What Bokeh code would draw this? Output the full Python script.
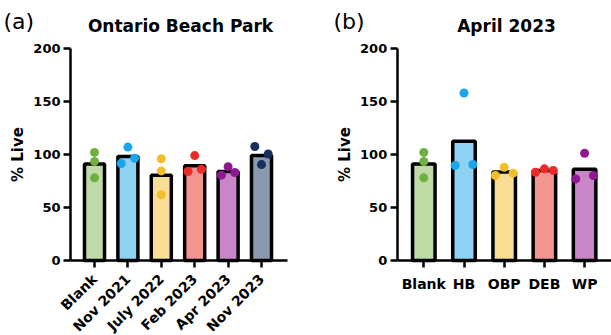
import math
from bokeh.plotting import figure
from bokeh.layouts import row
from bokeh.models import Label, FixedTicker, Range1d
from bokeh.embed import file_html
from bokeh.resources import INLINE

# ---- data: panel (a) Ontario Beach Park ----
a_labels = ["Blank", "Nov 2021", "July 2022", "Feb 2023", "Apr 2023", "Nov 2023"]
a_means = [91, 98, 80.5, 89.5, 84, 99]
a_pts = [
    [102, 93.5, 78],
    [91.5, 107, 96.5],
    [96, 84.5, 62],
    [84, 99, 86],
    [80.5, 88.5, 83],
    [107.5, 90.5, 100.5],
]
a_jit = [
    [0, 0, 0],
    [-0.2, 0, 0.2],
    [0, 0, 0],
    [-0.2, 0, 0.2],
    [-0.2, 0, 0.2],
    [-0.2, 0, 0.2],
]

# ---- data: panel (b) April 2023 ----
b_labels = ["Blank", "HB", "OBP", "DEB", "WP"]
b_means = [91, 112.5, 83.5, 85, 86]
b_pts = [
    [102, 93.5, 78],
    [89.6, 158, 90.6],
    [80.2, 88, 82.4],
    [83.3, 86.5, 85],
    [77, 101.2, 80.2],
]
b_jit = [
    [0, 0, 0],
    [-0.22, 0, 0.22],
    [-0.22, 0, 0.22],
    [-0.22, 0, 0.22],
    [-0.22, 0, 0.22],
]

y_ticks = [0, 50, 100, 150, 200]

a_fill = ["#bfdaa6", "#8dd1f3", "#f8de95", "#f49592", "#c886c8", "#8a99b0"]
a_dot = ["#6fb140", "#1aa6ea", "#f4be2a", "#ec2a2a", "#8e1890", "#16305e"]
b_fill = ["#bfdaa6", "#8dd1f3", "#f8de95", "#f49592", "#c886c8"]
b_dot = ["#6fb140", "#1aa6ea", "#f4be2a", "#ec2a2a", "#8e1890"]

FONT = "DejaVu Sans"
H = 335
Y0_PX = 260.0      # pixel row of value 0
PX_PER_UNIT = 1.06  # pixels per % unit


def make_panel(labels, means, pts, jit, fills, dots, width, x0_px, step_px,
               axis_px, axis_end_px, bar_w, title, title_px, tag, tag_px, rotate):
    n = len(labels)
    xs = list(range(n))
    x_start = -x0_px / step_px
    x_end = (width - x0_px) / step_px
    y_start = (Y0_PX - H) / PX_PER_UNIT
    y_end = Y0_PX / PX_PER_UNIT
    yaxis_loc = (axis_px - x0_px) / step_px
    xaxis_end = (axis_end_px - x0_px) / step_px

    p = figure(width=width, height=H, output_backend="svg", toolbar_location=None,
               x_range=Range1d(x_start, x_end), y_range=Range1d(y_start, y_end),
               min_border=0, min_border_left=0, min_border_right=0,
               min_border_top=0, min_border_bottom=0)
    p.vbar(x=xs, top=means, width=bar_w, fill_color=fills, line_color="black",
           line_width=3.5)
    for i in range(n):
        p.scatter(x=[xs[i] + d for d in jit[i]], y=pts[i], size=9,
                  fill_color=dots[i], line_color=None)
    p.xgrid.visible = False
    p.ygrid.visible = False
    p.outline_line_color = None
    p.background_fill_color = "white"
    p.border_fill_color = "white"

    for ax in (p.xaxis[0], p.yaxis[0]):
        ax.axis_line_width = 2.5
        ax.major_tick_line_width = 2.5
        ax.major_tick_out = 7
        ax.major_tick_in = 0
        ax.minor_tick_line_color = None
        ax.major_label_text_font = FONT
        ax.major_label_text_font_style = "bold"
        ax.major_label_text_color = "black"
        ax.axis_line_color = "black"
        ax.major_tick_line_color = "black"

    p.yaxis.fixed_location = yaxis_loc
    p.yaxis.bounds = (0, 200)
    p.yaxis.ticker = FixedTicker(ticks=y_ticks)
    p.yaxis.major_label_text_font_size = "13px"
    p.yaxis.major_label_standoff = 3
    p.yaxis.axis_label = "% Live"
    p.yaxis.axis_label_text_font = FONT
    p.yaxis.axis_label_text_font_style = "bold"
    p.yaxis.axis_label_text_font_size = "15px"
    p.yaxis.axis_label_text_color = "black"
    p.yaxis.axis_label_standoff = 3

    p.xaxis.fixed_location = 0
    p.xaxis.bounds = (yaxis_loc, xaxis_end)
    p.xaxis.ticker = FixedTicker(ticks=xs)
    p.xaxis.major_label_overrides = {i: lab for i, lab in enumerate(labels)}
    p.xaxis.major_label_text_font_size = "14px"
    if rotate:
        p.xaxis.major_label_orientation = math.pi / 4
        p.xaxis.major_label_standoff = 9
    else:
        p.xaxis.major_label_standoff = 8

    title_x = (title_px - x0_px) / step_px
    title_y = (Y0_PX - 25) / PX_PER_UNIT
    p.add_layout(Label(x=title_x, y=title_y, text=title, text_font=FONT,
                       text_font_size="17px", text_font_style="bold",
                       text_color="black", text_align="center",
                       text_baseline="alphabetic"))
    tag_x = (tag_px - x0_px) / step_px
    tag_y = (Y0_PX - 21) / PX_PER_UNIT
    p.add_layout(Label(x=tag_x, y=tag_y, text=tag, text_font=FONT,
                       text_font_size="22px", text_color="black",
                       text_align="left", text_baseline="alphabetic"))
    return p


p1 = make_panel(a_labels, a_means, a_pts, a_jit, a_fill, a_dot, 305,
                94.0, 33.4, 70.0, 287.0, 0.6, "Ontario Beach Park", 180.0,
                "(a)", 3.0, True)
p2 = make_panel(b_labels, b_means, b_pts, b_jit, b_fill, b_dot, 306,
                118.3, 40.2, 91.7, 306.0, 0.56, "April 2023", 201.0,
                "(b)", 28.0, False)

layout = row(p1, p2)
open("out.html", "w").write(file_html(layout, INLINE))
